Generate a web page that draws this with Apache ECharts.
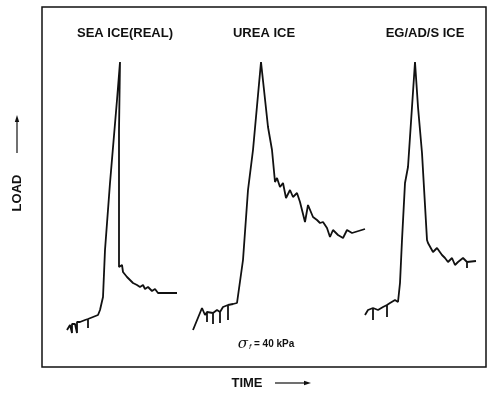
<!DOCTYPE html>
<html>
<head>
<meta charset="utf-8">
<script src="https://cdn.jsdelivr.net/npm/echarts@6/dist/echarts.min.js"></script>
<style>
  html, body { margin: 0; padding: 0; background: #fff; }
  #chart { width: 488px; height: 394px; }
</style>
</head>
<body>
<div id="chart"></div>
<script>
// traces: [time, load] in arbitrary units
const seaIce = [
  [25, 37], [28, 42], [30, 43], [30, 34], [30, 43], [33, 43], [35, 45], [35, 34], [35, 45],
  [38, 45], [43, 47], [46, 48], [46, 39], [46, 48], [48, 49], [51, 50], [56, 52], [58, 57],
  [61, 70], [63, 117], [68, 184], [75, 267], [78, 305], [77, 237], [77, 100], [80, 102],
  [81, 95], [83, 97], [85, 90], [88, 87], [91, 84], [95, 82], [98, 80], [101, 82], [103, 78],
  [106, 80], [110, 76], [113, 78], [116, 74], [135, 74]
];
const ureaIce = [
  [151, 37], [160, 59], [163, 52], [165, 55], [165, 45], [165, 55], [171, 54], [171, 43],
  [171, 54], [175, 57], [178, 55], [178, 44], [178, 55], [181, 60], [186, 62], [186, 47],
  [186, 62], [191, 63], [195, 64], [197, 62], [201, 107], [206, 177], [211, 217], [219, 305],
  [226, 240], [230, 217], [233, 185], [235, 189], [238, 180], [241, 184], [244, 169],
  [248, 177], [251, 170], [255, 174], [258, 165], [263, 145], [266, 162], [271, 150],
  [275, 147], [278, 144], [281, 145], [285, 139], [288, 130], [291, 137], [296, 132],
  [301, 129], [305, 137], [310, 134], [323, 138]
];
const egIce = [
  [323, 52], [326, 57], [331, 59], [331, 47], [331, 59], [336, 57], [341, 60], [345, 62],
  [345, 50], [345, 62], [348, 64], [353, 67], [355, 69], [356, 65], [358, 84], [360, 127],
  [363, 184], [366, 200], [370, 260], [373, 305], [376, 260], [380, 214], [385, 127],
  [386, 124], [388, 125], [391, 115], [395, 119], [400, 112], [403, 109], [406, 105],
  [410, 109], [413, 102], [416, 105], [421, 109], [425, 105], [425, 99], [425, 105], [434, 106]
];
const panelLabels = ["SEA ICE(REAL)", "UREA ICE", "EG/AD/S ICE"];
const panelLabelX = [125, 264, 425];

const chart = echarts.init(document.getElementById("chart"));

const ink = "#111";
const font = "Liberation Sans, Arial, sans-serif";

const graphics = panelLabels.map((t, i) => ({
  type: "text",
  x: panelLabelX[i],
  y: 33,
  style: { text: t, font: "bold 13px " + font, fill: ink, textAlign: "center", textVerticalAlign: "middle" }
}));

graphics.push(
  {
    type: "text", x: 17, y: 193, rotation: Math.PI / 2,
    style: { text: "LOAD", font: "bold 13px " + font, fill: ink, textAlign: "center", textVerticalAlign: "middle" }
  },
  { type: "line", shape: { x1: 17, y1: 153, x2: 17, y2: 120 }, style: { stroke: ink, lineWidth: 1.2 } },
  { type: "polygon", shape: { points: [[17, 115], [14.8, 122], [19.2, 122]] }, style: { fill: ink } },
  {
    type: "text", x: 247, y: 383,
    style: { text: "TIME", font: "bold 13px " + font, fill: ink, textAlign: "center", textVerticalAlign: "middle" }
  },
  { type: "line", shape: { x1: 275, y1: 383, x2: 306, y2: 383 }, style: { stroke: ink, lineWidth: 1.2 } },
  { type: "polygon", shape: { points: [[311, 383], [304, 380.8], [304, 385.2]] }, style: { fill: ink } },
  {
    type: "text", x: 266, y: 344,
    style: {
      text: "{s|σ}{f|f}{t| = 40 kPa}",
      textAlign: "center", textVerticalAlign: "middle",
      rich: {
        s: { font: "italic 15px DejaVu Serif, serif", fill: ink },
        f: { font: "italic 8px " + font, fill: ink, padding: [6, 0, 0, 1] },
        t: { font: "bold 10px " + font, fill: ink }
      }
    }
  }
);

const lineSeries = (name, data) => ({
  name: name,
  type: "line",
  data: data,
  symbol: "none",
  lineStyle: { color: ink, width: 1.8 }
});

chart.setOption({
  animation: false,
  grid: { left: 42, top: 7, width: 444, height: 360, show: true, borderColor: ink, borderWidth: 1.5 },
  xAxis: {
    type: "value", min: 0, max: 444,
    axisLine: { show: false }, axisTick: { show: false }, axisLabel: { show: false }, splitLine: { show: false }
  },
  yAxis: {
    type: "value", min: 0, max: 360,
    axisLine: { show: false }, axisTick: { show: false }, axisLabel: { show: false }, splitLine: { show: false }
  },
  series: [
    lineSeries(panelLabels[0], seaIce),
    lineSeries(panelLabels[1], ureaIce),
    lineSeries(panelLabels[2], egIce)
  ],
  graphic: graphics
});
</script>
</body>
</html>
